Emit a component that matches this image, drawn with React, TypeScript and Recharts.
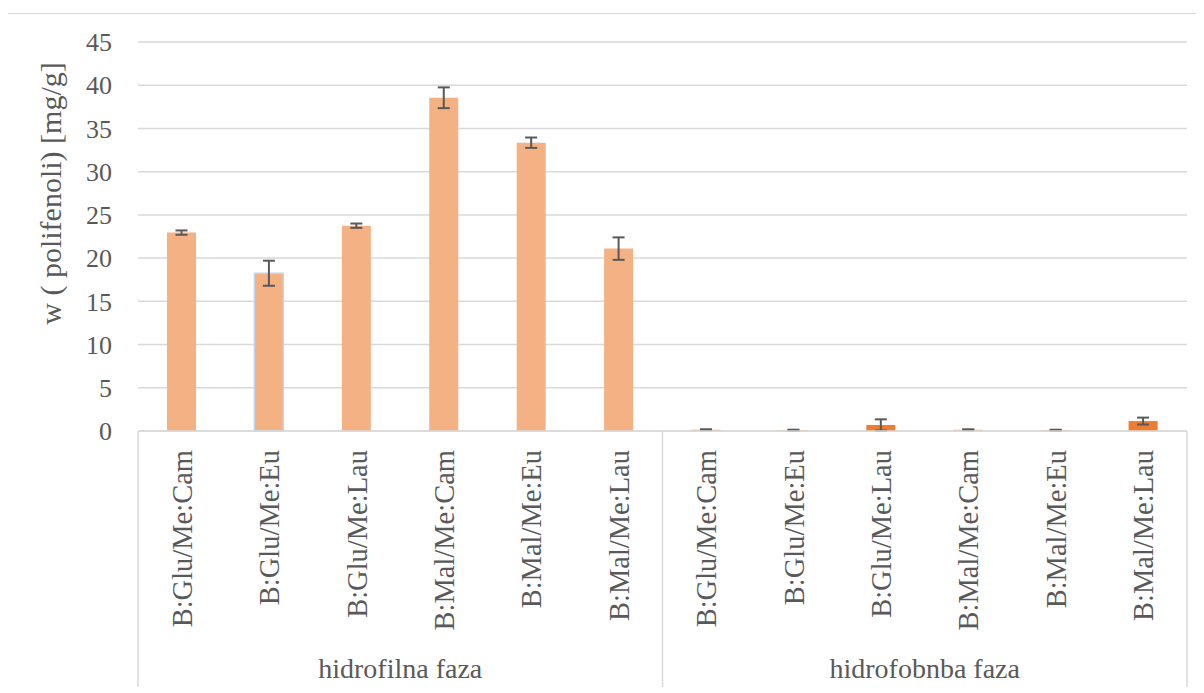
import React from "react";
import { BarChart, Bar, XAxis, YAxis, CartesianGrid, ErrorBar, Cell } from "recharts";

const categories = [
  "B:Glu/Me:Cam", "B:Glu/Me:Eu", "B:Glu/Me:Lau", "B:Mal/Me:Cam", "B:Mal/Me:Eu", "B:Mal/Me:Lau",
  "B:Glu/Me:Cam", "B:Glu/Me:Eu", "B:Glu/Me:Lau", "B:Mal/Me:Cam", "B:Mal/Me:Eu", "B:Mal/Me:Lau",
];
const groups = ["hidrofilna faza", "hidrofobnba faza"];
const groupSize = 6;
const values = [22.95, 18.25, 23.75, 38.55, 33.35, 21.1, 0.15, 0.1, 0.7, 0.15, 0.1, 1.15];
const errors = [0.25, 1.45, 0.25, 1.2, 0.6, 1.3, 0.05, 0.05, 0.65, 0.05, 0.05, 0.4];
const yTicks = [0, 5, 10, 15, 20, 25, 30, 35, 40, 45];
const yTitle = "w ( polifenoli) [mg/g]";

const LIGHT = "#F4B183";
const DARK = "#ED7D31";
const barFills = [LIGHT, LIGHT, LIGHT, LIGHT, LIGHT, LIGHT, LIGHT, LIGHT, DARK, LIGHT, LIGHT, DARK];
const barStrokes = ["none", "#BDD7EE", "none", "none", "none", "none", "none", "none", "none", "none", "none", "none"];

const data = categories.map((c, i) => ({ name: c + "#" + i, label: c, value: values[i], err: errors[i] }));

const FONT = "'Liberation Serif', 'Times New Roman', serif";
const TEXT = "#595959";
const GRID = "#D9D9D9";

const XTick = (props: any) => {
  const { x, y, index, payload } = props;
  const band = payload && payload.offset ? payload.offset * 2 : 87.5;
  const label = categories[index];
  const els: any[] = [];
  els.push(
    <text key="t" x={x} y={y + 19} dy="0.35em" textAnchor="end" transform={`rotate(-90, ${x}, ${y + 19})`}
      fontFamily={FONT} fontSize={28.5} fill={TEXT}>{label}</text>
  );
  if (index % groupSize === 0) {
    els.push(<line key="l" x1={x - band / 2} x2={x - band / 2} y1={y} y2={y + 256} stroke={GRID} strokeWidth={1.5} />);
    const g = groups[Math.floor(index / groupSize)];
    els.push(
      <text key="g" x={x + band * (groupSize / 2 - 0.5)} y={y + 247} textAnchor="middle"
        fontFamily={FONT} fontSize={28} fill={TEXT}>{g}</text>
    );
  }
  if (index === categories.length - 1) {
    els.push(<line key="r" x1={x + band / 2} x2={x + band / 2} y1={y} y2={y + 256} stroke={GRID} strokeWidth={1.5} />);
  }
  return <g>{els}</g>;
};

const YTitle = (props: any) => {
  const vb = props.viewBox || { x: 0, y: 28, width: 130, height: 389 };
  const x = vb.x + 53;
  const y = vb.y + vb.height / 2 - 43;
  return (
    <text x={x} y={y} textAnchor="middle" transform={`rotate(-90, ${x}, ${y})`}
      fontFamily={FONT} fontSize={30} fill={TEXT}>{yTitle}</text>
  );
};

export default function App() {
  return (
    <div style={{ marginLeft: -1, marginTop: 5, width: 1200, height: 690, border: `1px solid ${GRID}`, boxSizing: "border-box", background: "#fff" }}>
      <BarChart width={1196} height={679} data={data} margin={{ top: 28, right: 17, left: 0, bottom: 6 }} barSize={29}>
        <CartesianGrid vertical={false} stroke={GRID} strokeWidth={1.5} />
        <XAxis dataKey="name" interval={0} height={256} tickLine={false} tickSize={0} tickMargin={0}
          axisLine={{ stroke: GRID, strokeWidth: 1.5 }} tick={<XTick />} />
        <YAxis width={130} domain={[0, 45]} ticks={yTicks} interval={0} axisLine={false} tickLine={false}
          tickSize={0} tickMargin={26}
          tick={{ fontFamily: FONT, fontSize: 26, fill: TEXT }} label={(p: any) => <YTitle {...p} />} />
        <Bar dataKey="value" isAnimationActive={false}>
          {data.map((d, i) => (
            <Cell key={i} fill={barFills[i]} stroke={barStrokes[i]} strokeWidth={1.5} />
          ))}
          <ErrorBar dataKey="err" width={6} stroke="#595959" strokeWidth={2} direction="y" />
        </Bar>
      </BarChart>
    </div>
  );
}
